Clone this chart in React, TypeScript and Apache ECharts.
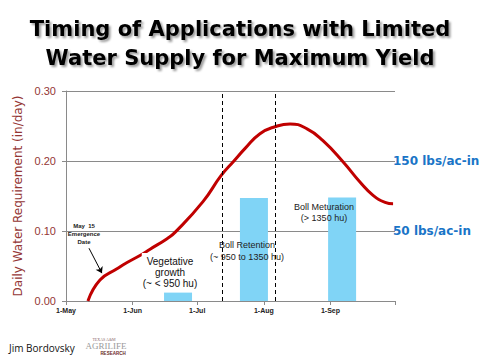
import React, { useEffect, useRef } from 'react';
import * as echarts from 'echarts';

// X axis: days since 1-May
const monthTickLabels = ['1-May', '1-Jun', '1-Jul', '1-Aug', '1-Sep'];
const monthTickDays = [0, 31, 61, 92, 123];
const axisEndDay = 153; // 1-Oct

// Daily water requirement curve (in/day)
const curveDays = [10.2, 15.8, 23.7, 28.4, 34.4, 39.1, 47.0, 50.7, 63.7, 72.1, 78.1, 83.3, 90.2, 97.2, 104.2, 112.1, 119.5, 128.8, 136.7, 142.8, 148.4, 152.1];
const curveValues = [0, 0.030, 0.046, 0.055, 0.065, 0.074, 0.089, 0.098, 0.142, 0.179, 0.200, 0.218, 0.239, 0.249, 0.253, 0.246, 0.229, 0.199, 0.170, 0.151, 0.141, 0.139];

// Irrigation application bars
const barDays = [52.1, 87.4, 128.4];
const barValues = [0.012, 0.147, 0.148];

// Growth stage boundaries (dashed lines)
const stageBoundaryDays = [72.6, 97.4];

// Reference levels
const refLabels = ['150 lbs/ac-in', '50 lbs/ac-in'];

// Emergence arrow (from, to) in data coords
const arrowFrom = [10.7, 0.0754];
const arrowTo = [16.7, 0.0398];

const DARK_RED = '#943634';
const BLUE = '#1a75c7';

export default function App() {
  const ref = useRef<HTMLDivElement>(null);
  useEffect(() => {
    if (!ref.current) return;
    const chart = echarts.init(ref.current, null, { renderer: 'svg' });
    const option: any = {
      animation: false,
      backgroundColor: '#ffffff',
      grid: { left: 66, right: 85, top: 91, bottom: 59 },
      xAxis: {
        type: 'value',
        min: 0,
        max: axisEndDay,
        splitLine: { show: false },
        axisLine: { show: true, lineStyle: { color: '#8a8a8a', width: 1 } },
        axisTick: { show: true, customValues: [...monthTickDays, axisEndDay], length: 4, lineStyle: { color: '#8a8a8a' } },
        axisLabel: {
          customValues: monthTickDays,
          formatter: (v: number) => {
            const i = monthTickDays.indexOf(Math.round(v));
            return i >= 0 ? monthTickLabels[i] : '';
          },
          fontSize: 7,
          fontWeight: 'bold',
          color: '#222',
          fontFamily: 'Liberation Sans',
          margin: 6,
        },
      },
      yAxis: {
        type: 'value',
        min: 0,
        max: 0.3,
        interval: 0.1,
        name: 'Daily Water Requirement (in/day)',
        nameLocation: 'middle',
        nameGap: 40,
        nameTextStyle: { color: DARK_RED, fontSize: 12, fontFamily: 'DejaVu Sans' },
        axisLine: { show: true, lineStyle: { color: '#8a8a8a', width: 1 } },
        axisTick: { show: true, length: 4, lineStyle: { color: '#8a8a8a' } },
        splitLine: { show: true, lineStyle: { color: '#8a8a8a', width: 1 } },
        axisLabel: {
          formatter: (v: number) => v.toFixed(2),
          color: DARK_RED,
          fontSize: 11,
          fontFamily: 'Liberation Sans',
          margin: 10,
        },
      },
      series: [
        {
          type: 'bar',
          data: barDays.map((d, i) => [d, barValues[i]]),
          barWidth: 28,
          itemStyle: { color: '#80d4f6' },
          z: 1,
          markLine: {
            silent: true,
            symbol: 'none',
            label: { show: false },
            lineStyle: { color: '#000', type: [4, 3], width: 1 },
            data: stageBoundaryDays.map((d) => ({ xAxis: d })),
          },
        },
        {
          type: 'line',
          data: curveDays.map((d, i) => [d, curveValues[i]]),
          smooth: 0.5,
          showSymbol: false,
          symbol: 'none',
          lineStyle: { color: '#c00000', width: 3 },
          itemStyle: { color: '#c00000' },
          z: 3,
        },
        {
          type: 'line',
          data: [],
          z: 4,
          markLine: {
            silent: true,
            symbol: ['none', 'arrow'],
            symbolSize: 6,
            label: { show: false },
            lineStyle: { color: '#000', type: 'solid', width: 1 },
            data: [[{ coord: arrowFrom }, { coord: arrowTo }]],
          },
        },
      ],
      graphic: [
        {
          type: 'text',
          x: 240,
          y: 14,
          style: {
            text: 'Timing of Applications with Limited\nWater Supply for Maximum Yield',
            fontSize: 21,
            fontWeight: 'bold',
            fontFamily: 'DejaVu Sans',
            fill: '#000',
            align: 'center',
            lineHeight: 29,
            textShadowColor: 'rgba(0,0,0,0.4)',
            textShadowOffsetX: 2,
            textShadowOffsetY: 2,
            textShadowBlur: 2,
          },
        },
        {
          type: 'text',
          x: 393,
          y: 161,
          style: { text: refLabels[0], fontSize: 12, fontWeight: 'bold', fontFamily: 'DejaVu Sans', fill: BLUE, verticalAlign: 'middle' },
        },
        {
          type: 'text',
          x: 393,
          y: 231,
          style: { text: refLabels[1], fontSize: 12, fontWeight: 'bold', fontFamily: 'DejaVu Sans', fill: BLUE, verticalAlign: 'middle' },
        },
        {
          type: 'text',
          x: 84,
          y: 222,
          z: 10,
          style: {
            text: 'May  15\nEmergence\nDate',
            fontSize: 6,
            fontWeight: 'bold',
            fontFamily: 'Liberation Sans',
            fill: '#222',
            align: 'center',
            lineHeight: 8,
          },
        },
        {
          type: 'text',
          x: 170,
          y: 253,
          z: 10,
          style: {
            text: 'Vegetative\ngrowth\n(~ < 950 hu)',
            fontSize: 10,
            fontFamily: 'Liberation Sans',
            fill: '#111',
            align: 'center',
            lineHeight: 11,
            backgroundColor: '#fff',
            padding: [3, 1, 0, 1],
          },
        },
        {
          type: 'text',
          x: 247,
          y: 239,
          z: 10,
          style: {
            text: 'Boll Retention\n(~ 950 to 1350 hu)',
            fontSize: 9,
            fontFamily: 'Liberation Sans',
            fill: '#222',
            align: 'center',
            lineHeight: 12,
          },
        },
        {
          type: 'text',
          x: 324,
          y: 201,
          z: 10,
          style: {
            text: 'Boll Meturation\n(> 1350 hu)',
            fontSize: 9,
            fontFamily: 'Liberation Sans',
            fill: '#222',
            align: 'center',
            lineHeight: 11,
          },
        },
        {
          type: 'text',
          x: 9,
          y: 343,
          style: { text: 'Jim Bordovsky', fontSize: 10, fontFamily: 'Open Sans', fill: '#111' },
        },
        {
          type: 'text',
          x: 104,
          y: 337,
          style: { text: 'TEXAS A&M', fontSize: 4, fontFamily: 'Liberation Serif', fill: '#8a6a6a', align: 'center' },
        },
        {
          type: 'text',
          x: 106,
          y: 341,
          style: { text: 'AGRILIFE', fontSize: 9, fontFamily: 'Liberation Serif', fill: '#9a9a9a', align: 'center' },
        },
        {
          type: 'text',
          x: 113,
          y: 351,
          style: { text: 'RESEARCH', fontSize: 4.5, fontWeight: 'bold', fontFamily: 'Liberation Sans', fill: '#6b2a2a', align: 'center' },
        },
      ],
    };
    chart.setOption(option);
    return () => chart.dispose();
  }, []);
  return <div ref={ref} style={{ position: 'fixed', left: 0, top: 0, width: 480, height: 360 }} />;
}
